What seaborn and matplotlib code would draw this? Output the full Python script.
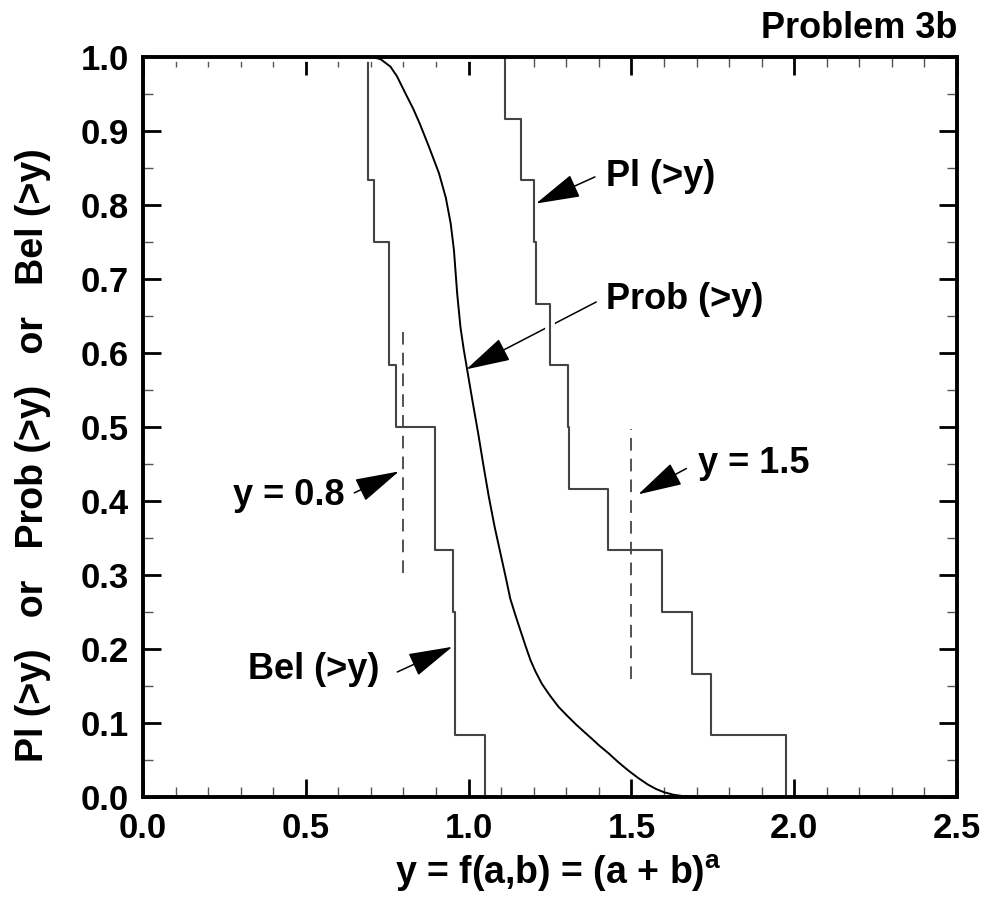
import numpy as np
import pandas as pd
import matplotlib
matplotlib.use("Agg")
import matplotlib.pyplot as plt
import matplotlib.patheffects as pe
from matplotlib.ticker import MultipleLocator
import seaborn as sns

# ---- data ----
bel_x = [0.0, 0.692, 0.710, 0.756, 0.776, 0.897, 0.952, 0.957, 1.049]
bel_y = [1.0, 0.8333, 0.75, 0.5833, 0.5, 0.3333, 0.25, 0.0833, 0.0]

pl_x = [0.0, 1.113, 1.161, 1.200, 1.207, 1.250, 1.305, 1.309, 1.427, 1.595, 1.685, 1.745, 1.975]
pl_y = [1.0, 0.9167, 0.8333, 0.75, 0.6667, 0.5833, 0.5, 0.4167, 0.3333, 0.25, 0.1667, 0.0833, 0.0]

prob_x = [0.705, 0.73, 0.76, 0.78, 0.807, 0.83, 0.85, 0.878, 0.909, 0.93, 0.945, 0.955,
          0.965, 0.975, 0.985, 0.995, 1.012, 1.03, 1.046, 1.062, 1.08, 1.10, 1.115, 1.128,
          1.145, 1.16, 1.175, 1.19, 1.205, 1.225, 1.25, 1.276, 1.30, 1.33, 1.355, 1.378,
          1.40, 1.43, 1.46, 1.49, 1.52, 1.55, 1.575, 1.60, 1.63, 1.66, 1.70, 1.75]
prob_y = [1.0, 0.997, 0.987, 0.974, 0.950, 0.930, 0.910, 0.879, 0.843, 0.810, 0.775, 0.739,
          0.680, 0.635, 0.605, 0.579, 0.535, 0.490, 0.447, 0.406, 0.365, 0.325, 0.295, 0.268,
          0.244, 0.224, 0.204, 0.185, 0.170, 0.153, 0.137, 0.122, 0.111, 0.098, 0.088, 0.079,
          0.070, 0.059, 0.047, 0.036, 0.026, 0.017, 0.011, 0.0065, 0.003, 0.0012, 0.0002, 0.0]

# dashed markers at y = 0.8 and y = 1.5
mark_x = [0.8, 1.5]
mark_lo = [0.303, 0.159]
mark_hi = [0.635, 0.497]

# annotations: text, text position, alignment, arrow tail, arrow tip
labels = ["Pl (>y)", "Prob (>y)", "y = 0.8", "y = 1.5", "Bel (>y)"]
label_xy = [(1.423, 0.838), (1.423, 0.672), (0.618, 0.408), (1.704, 0.451), (0.725, 0.172)]
label_ha = ["left", "left", "right", "left", "right"]
arrow_tail = [(1.388, 0.838), (1.392, 0.669), (0.649, 0.411), (1.669, 0.444), (0.781, 0.169)]
arrow_tip = [(1.207, 0.802), (0.993, 0.578), (0.786, 0.440), (1.521, 0.409), (0.950, 0.203)]

sns.set_style("ticks")
plt.rcParams['font.family'] = ['Liberation Sans', 'DejaVu Sans']
plt.rcParams['font.weight'] = 'bold'
plt.rcParams['mathtext.fontset'] = 'custom'
plt.rcParams['mathtext.rm'] = 'Liberation Sans:bold'
plt.rcParams['mathtext.bf'] = 'Liberation Sans:bold'
for k in ['text.color', 'axes.labelcolor', 'xtick.color', 'ytick.color']:
    plt.rcParams[k] = 'black'

fig = plt.figure(figsize=(9.84, 9.01), dpi=100)
ax = fig.add_axes([0.1453, 0.1154, 0.8273, 0.8213])

step_col = "#444444"
sns.lineplot(x=bel_x, y=bel_y, ax=ax, drawstyle="steps-post", color=step_col,
             lw=1.5, estimator=None, sort=False, zorder=2)
sns.lineplot(x=pl_x, y=pl_y, ax=ax, drawstyle="steps-post", color=step_col,
             lw=1.5, estimator=None, sort=False, zorder=2,
             path_effects=[pe.withStroke(linewidth=7, foreground="white")])
sns.lineplot(x=prob_x, y=prob_y, ax=ax, color="black", lw=1.4, estimator=None,
             sort=False, zorder=3)

for mx, lo, hi in zip(mark_x, mark_lo, mark_hi):
    ax.plot([mx, mx], [lo, hi], color=step_col, lw=1.3, linestyle=(0, (7, 4.5)), zorder=3)

for txt, xy, ha, tail, tip in zip(labels, label_xy, label_ha, arrow_tail, arrow_tip):
    ax.text(xy[0], xy[1], txt, ha=ha, va="center", fontsize=26, fontweight="bold")
    ax.annotate("", xy=tip, xytext=tail,
                arrowprops=dict(arrowstyle="-|>,head_length=1.4,head_width=0.38",
                                mutation_scale=20, color="black", lw=1.1,
                                shrinkA=0, shrinkB=0),
                zorder=1.5 if txt.startswith("Prob") else 4)

ax.set_xlim(0, 2.5)
ax.set_ylim(0, 1.0)
ax.xaxis.set_major_locator(MultipleLocator(0.5))
ax.xaxis.set_minor_locator(MultipleLocator(0.1))
ax.yaxis.set_major_locator(MultipleLocator(0.1))
ax.yaxis.set_minor_locator(MultipleLocator(0.05))
ax.xaxis.set_major_formatter(plt.FormatStrFormatter('%.1f'))
ax.yaxis.set_major_formatter(plt.FormatStrFormatter('%.1f'))

ax.tick_params(which="both", direction="in", top=True, right=True, labelsize=25)
ax.tick_params(which="major", length=13, width=2)
ax.tick_params(which="minor", length=7.5, width=1, color="#555555")
ax.tick_params(axis="x", which="major", pad=11)
ax.tick_params(axis="y", which="major", pad=10)
for lab in ax.get_xticklabels() + ax.get_yticklabels():
    lab.set_fontweight("bold")
for sp in ax.spines.values():
    sp.set_linewidth(2.8)
    sp.set_color("black")
    sp.set_zorder(5)

ax.set_xlabel(r"y = f(a,b) = (a + b)$^{\mathrm{a}}$", fontsize=27, fontweight="bold")
ax.xaxis.set_label_coords(0.51, -0.075)
ax.set_ylabel("Pl (>y)   or   Prob (>y)   or   Bel (>y)", fontsize=27, fontweight="bold")
ax.yaxis.set_label_coords(-0.113, 0.462)
ax.set_title("Problem 3b", loc="right", fontsize=26, fontweight="bold", pad=14)

fig.savefig("out.png", dpi=100)
